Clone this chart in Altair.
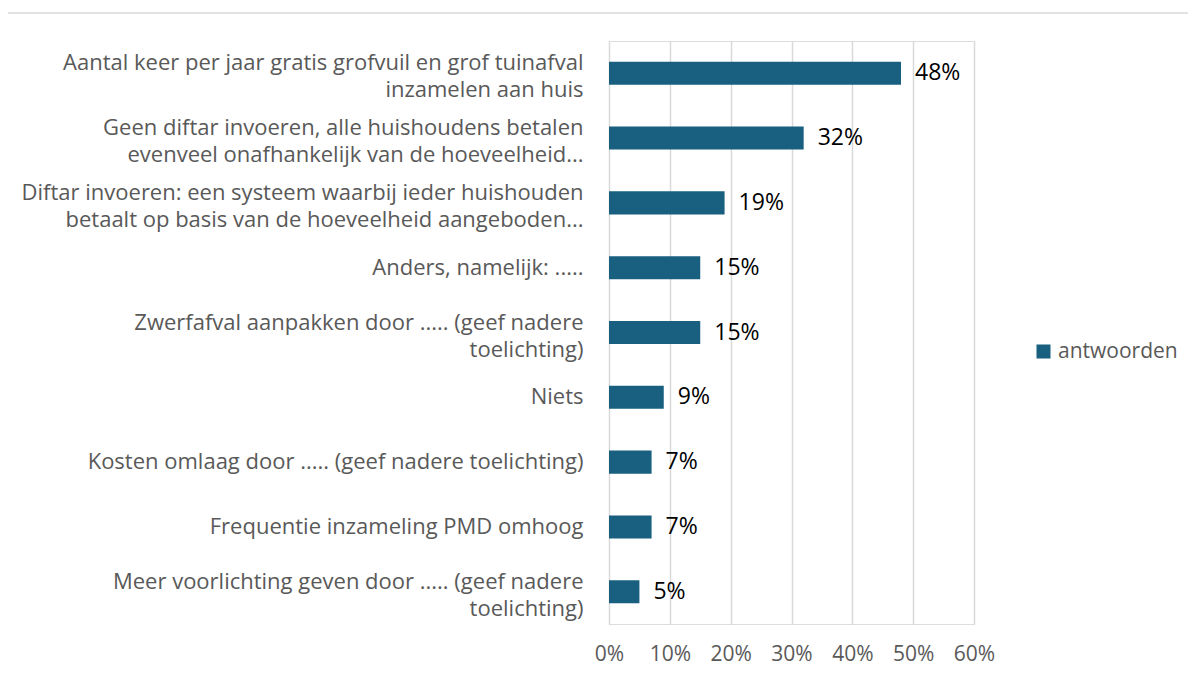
import altair as alt
import pandas as pd

categories = [
    "Aantal keer per jaar gratis grofvuil en grof tuinafval|inzamelen aan huis",
    "Geen diftar invoeren, alle huishoudens betalen|evenveel onafhankelijk van de hoeveelheid...",
    "Diftar invoeren: een systeem waarbij ieder huishouden|betaalt op basis van de hoeveelheid aangeboden...",
    "Anders, namelijk: .....",
    "Zwerfafval aanpakken door ..... (geef nadere|toelichting)",
    "Niets",
    "Kosten omlaag door ..... (geef nadere toelichting)",
    "Frequentie inzameling PMD omhoog",
    "Meer voorlichting geven door ..... (geef nadere|toelichting)",
]
values = [0.48, 0.32, 0.19, 0.15, 0.15, 0.09, 0.07, 0.07, 0.05]
value_labels = ["48%", "32%", "19%", "15%", "15%", "9%", "7%", "7%", "5%"]
series = "antwoorden"
x_ticks = [0, 0.1, 0.2, 0.3, 0.4, 0.5, 0.6]

df = pd.DataFrame({"cat": categories, "val": values, "lab": value_labels, "series": series})

FONT = "Open Sans"
GRAY = "#595959"
BAR = "#185F80"

y_enc = alt.Y(
    "cat:N",
    sort=None,
    title=None,
    scale=alt.Scale(paddingInner=0.645, paddingOuter=0.32),
    axis=alt.Axis(
        labelExpr="split(datum.label, '|')",
        labelFontSize=22,
        labelFont=FONT,
        labelColor=GRAY,
        labelLineHeight=27,
        labelPadding=26,
        labelLimit=700,
        labelOffset={
            "condition": {"test": "indexof(datum.value, '|') >= 0", "value": -10},
            "value": 0,
        },
        ticks=False,
        domain=True,
        domainColor="#d9d9d9",
        domainWidth=1,
        grid=False,
    ),
)

x_enc = alt.X(
    "val:Q",
    title=None,
    scale=alt.Scale(domain=[0, 0.6], nice=False),
    axis=alt.Axis(
        values=x_ticks,
        format=".0%",
        labelFontSize=21,
        labelFont=FONT,
        labelColor=GRAY,
        labelPadding=19,
        labelFlush=False,
        labelOverlap=False,
        ticks=False,
        domain=False,
        grid=True,
        gridColor="#d9d9d9",
        gridWidth=1.5,
    ),
)

bars = alt.Chart(df).mark_bar(color=BAR).encode(
    x=x_enc,
    y=y_enc,
    color=alt.Color(
        "series:N",
        scale=alt.Scale(range=[BAR]),
        legend=alt.Legend(
            title=None,
            orient="none",
            legendX=424,
            legendY=300,
            symbolType="square",
            symbolSize=196,
            symbolStrokeWidth=0,
            labelFontSize=21,
            labelFont=FONT,
            labelColor=GRAY,
            labelOffset=4,
        ),
    ),
)

text = alt.Chart(df).mark_text(
    align="left", baseline="middle", dx=14, fontSize=23, font=FONT, color="black"
).encode(x="val:Q", y=alt.Y("cat:N", sort=None), text="lab:N")

border = alt.Chart(df.head(1)).mark_rect(
    fill=None, stroke="#d9d9d9", strokeWidth=1.5
).encode(
    x=alt.value(-602), x2=alt.value(640), y=alt.value(-28), y2=alt.value(700)
)

chart = (
    alt.layer(border, bars, text)
    .properties(
        width=365,
        height=583,
        autosize=alt.AutoSizeParams(type="none"),
        padding={"left": 601, "top": 33, "right": 214, "bottom": 44},
    )
    .configure_view(stroke=None)
    .configure(background="white")
)

chart.save("out.html", embed_options={"renderer": "svg", "actions": False})
